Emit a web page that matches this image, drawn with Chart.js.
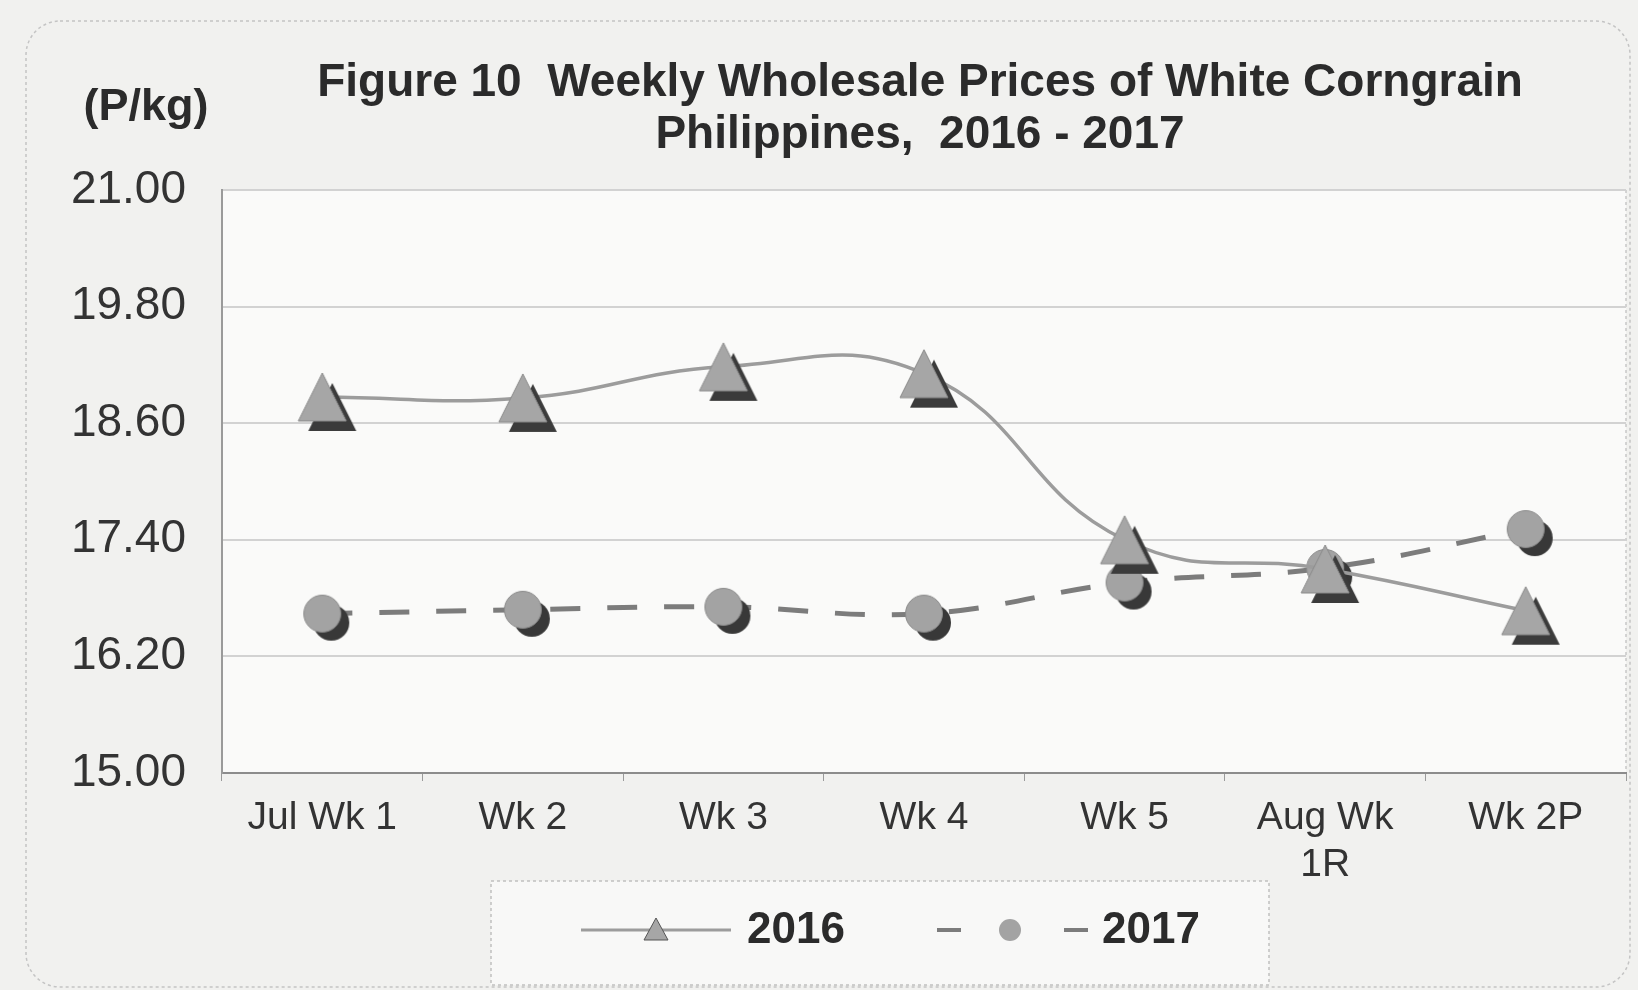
<!DOCTYPE html>
<html>
<head>
<meta charset="utf-8">
<script src="https://cdn.jsdelivr.net/npm/chart.js@4/dist/chart.umd.min.js"></script>
<style>
  html, body { margin: 0; padding: 0; background: #f1f1ef; }
  canvas { display: block; }
</style>
</head>
<body>
<canvas id="chart" width="1638" height="990"></canvas>
<script>
const weeks = ["Jul Wk 1", "Wk 2", "Wk 3", "Wk 4", "Wk 5", ["Aug Wk", "1R"], "Wk 2P"];
const prices2016 = [18.87, 18.86, 19.18, 19.11, 17.40, 17.10, 16.67];
const prices2017 = [16.64, 16.68, 16.71, 16.64, 16.96, 17.11, 17.51];
const yMin = 15.0;
const yMax = 21.0;
const yStep = 1.2;

const titleLines = ["Figure 10  Weekly Wholesale Prices of White Corngrain", "Philippines,  2016 - 2017"];
const unitLabel = "(P/kg)";
const seriesNames = ["2016", "2017"];

const FONT = "'Liberation Sans', Arial, sans-serif";

// excel-ish 3d markers: dark shadow down-right, light face on top
function triangleMarker() {
  const c = document.createElement("canvas");
  c.width = 72; c.height = 72;
  const ctx = c.getContext("2d");
  const tri = (dx, dy, fill) => {
    ctx.beginPath();
    ctx.moveTo(36 + dx, 12 + dy);
    ctx.lineTo(60 + dx, 60 + dy);
    ctx.lineTo(12 + dx, 60 + dy);
    ctx.closePath();
    ctx.fillStyle = fill;
    ctx.fill();
  };
  tri(10, 10, "#3b3b3b");
  tri(0, 0, "#a6a6a6");
  ctx.strokeStyle = "#8a8a8a";
  ctx.lineWidth = 1;
  ctx.stroke();
  return c;
}

function circleMarker() {
  const c = document.createElement("canvas");
  c.width = 64; c.height = 64;
  const ctx = c.getContext("2d");
  ctx.beginPath();
  ctx.arc(41, 41, 18, 0, Math.PI * 2);
  ctx.fillStyle = "#383838";
  ctx.fill();
  ctx.beginPath();
  ctx.arc(32, 32, 18.5, 0, Math.PI * 2);
  ctx.fillStyle = "#a3a3a3";
  ctx.fill();
  ctx.strokeStyle = "#8a8a8a";
  ctx.lineWidth = 1;
  ctx.stroke();
  return c;
}

const decorations = {
  id: "decorations",
  beforeDraw(chart) {
    const { ctx, chartArea: a } = chart;
    ctx.save();
    ctx.fillStyle = "#f1f1ef";
    ctx.fillRect(0, 0, chart.width, chart.height);
    // outer rounded frame
    ctx.setLineDash([3, 3]);
    ctx.strokeStyle = "#c4c4c4";
    ctx.lineWidth = 1.5;
    ctx.beginPath();
    ctx.roundRect(26, 21, 1604, 966, 34);
    ctx.stroke();
    ctx.setLineDash([]);
    // plot background
    ctx.fillStyle = "#fafaf9";
    ctx.fillRect(a.left, a.top, a.right - a.left, a.bottom - a.top);
    ctx.setLineDash([3, 3]);
    ctx.strokeStyle = "#c8c8c8";
    ctx.beginPath();
    ctx.moveTo(a.right, a.top);
    ctx.lineTo(a.right, a.bottom);
    ctx.stroke();
    ctx.restore();
  },
  afterDraw(chart) {
    const { ctx } = chart;
    ctx.save();
    ctx.fillStyle = "#2b2b2b";
    ctx.textAlign = "center";
    ctx.textBaseline = "middle";
    ctx.font = "bold 46px " + FONT;
    ctx.fillText(titleLines[0], 920, 83);
    ctx.fillText(titleLines[1], 920, 135);
    ctx.font = "bold 45px " + FONT;
    ctx.fillText(unitLabel, 146, 108);

    // legend box
    ctx.fillStyle = "#f8f8f7";
    ctx.fillRect(491, 881, 778, 104);
    ctx.setLineDash([3, 3]);
    ctx.strokeStyle = "#c0c0c0";
    ctx.lineWidth = 1.5;
    ctx.strokeRect(491, 881, 778, 104);
    ctx.setLineDash([]);

    const ly = 930;
    ctx.strokeStyle = "#9c9c9c";
    ctx.lineWidth = 3;
    ctx.beginPath();
    ctx.moveTo(581, ly);
    ctx.lineTo(731, ly);
    ctx.stroke();
    ctx.beginPath();
    ctx.moveTo(656, ly - 12);
    ctx.lineTo(668, ly + 10);
    ctx.lineTo(644, ly + 10);
    ctx.closePath();
    ctx.fillStyle = "#a6a6a6";
    ctx.fill();
    ctx.strokeStyle = "#555";
    ctx.lineWidth = 1;
    ctx.stroke();

    ctx.strokeStyle = "#7c7c7c";
    ctx.lineWidth = 4;
    ctx.beginPath();
    ctx.moveTo(937, ly);
    ctx.lineTo(961, ly);
    ctx.moveTo(1064, ly);
    ctx.lineTo(1088, ly);
    ctx.stroke();
    ctx.beginPath();
    ctx.arc(1010, ly, 11, 0, Math.PI * 2);
    ctx.fillStyle = "#a3a3a3";
    ctx.fill();

    ctx.fillStyle = "#2b2b2b";
    ctx.textAlign = "left";
    ctx.font = "bold 44px " + FONT;
    ctx.fillText(seriesNames[0], 747, ly + 1);
    ctx.fillText(seriesNames[1], 1102, ly + 1);
    ctx.restore();
  }
};

new Chart(document.getElementById("chart"), {
  type: "line",
  data: {
    labels: weeks,
    datasets: [
      {
        label: seriesNames[0],
        data: prices2016,
        borderColor: "#9c9c9c",
        borderWidth: 3.5,
        tension: 0.45,
        pointStyle: triangleMarker(),
        pointRadius: 30
      },
      {
        label: seriesNames[1],
        data: prices2017,
        borderColor: "#7c7c7c",
        borderWidth: 5,
        borderDash: [30, 27],
        tension: 0.4,
        pointStyle: circleMarker(),
        pointRadius: 26
      }
    ]
  },
  options: {
    responsive: false,
    animation: false,
    layout: { autoPadding: false, padding: { top: 190, right: 12, left: 0, bottom: 0 } },
    plugins: {
      legend: { display: false },
      title: { display: false },
      tooltip: { enabled: false }
    },
    scales: {
      x: {
        offset: true,
        grid: { display: true, drawOnChartArea: false, offset: true, tickLength: 8, color: "#9a9a9a" },
        border: { color: "#8c8c8c", width: 2 },
        ticks: {
          color: "#333",
          padding: 14,
          maxRotation: 0,
          font: { family: FONT, size: 39, lineHeight: 1.2 }
        },
        afterFit(scale) {
          scale.height = 217;
          scale.paddingLeft = 0;
          scale.paddingRight = 0;
        }
      },
      y: {
        min: yMin,
        max: yMax,
        grid: { color: "#d2d2d2", lineWidth: 2, drawTicks: false },
        border: { color: "#9a9a9a", width: 2 },
        ticks: {
          stepSize: yStep,
          color: "#333",
          padding: 36,
          font: { family: FONT, size: 46 },
          callback: v => Number(v).toFixed(2)
        },
        afterFit(scale) { scale.width = 222; }
      }
    }
  },
  plugins: [decorations]
});
</script>
</body>
</html>
